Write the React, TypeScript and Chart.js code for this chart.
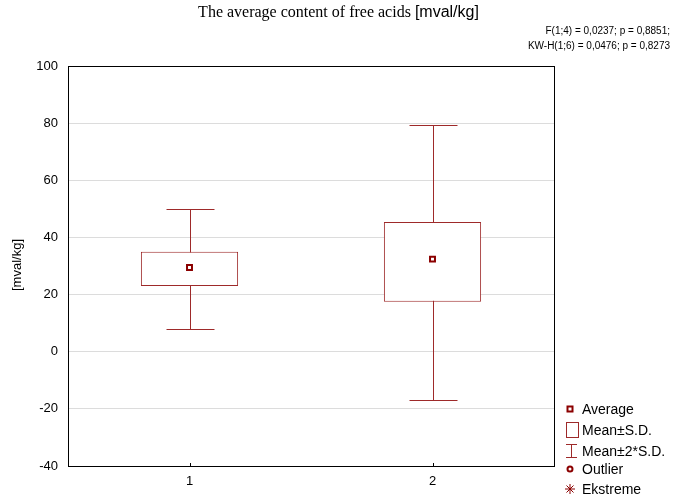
import React, { useEffect, useRef } from "react";
import { Chart, registerables } from "chart.js";

Chart.register(...registerables);

const categories = ["1", "2"];
const means = [29.5, 32.4];
const sdLow = [23, 17.5];
const sdHigh = [35, 45.4];
const whiskerLow = [8, -16.8];
const whiskerHigh = [50, 79.4];
const yTicks = [-40, -20, 0, 20, 40, 60, 80, 100];

const titleSerif = "The average content of free acids ";
const titleSans = "[mval/kg]";
const statLines = ["F(1;4) = 0,0237; p = 0,8851;", "KW-H(1;6) = 0,0476; p = 0,8273"];
const yTitle = "[mval/kg]";
const legendLabels = ["Average", "Mean±S.D.", "Mean±2*S.D.", "Outlier", "Ekstreme"];

const LINE = "#9e2a2a";
const MARK = "#8b0000";
const SANS = "'Liberation Sans', Arial, sans-serif";
const SERIF = "'Liberation Serif', 'Times New Roman', serif";

const extras = {
  id: "extras",
  beforeDatasetsDraw(chart: any) {
    const { ctx } = chart;
    const x = chart.scales.x;
    const y = chart.scales.y;
    ctx.save();
    ctx.strokeStyle = LINE;
    ctx.lineWidth = 1;
    categories.forEach((_, i) => {
      const px = Math.round(x.getPixelForValue(i)) + 0.5;
      const yl = Math.round(y.getPixelForValue(whiskerLow[i])) + 0.5;
      const yh = Math.round(y.getPixelForValue(whiskerHigh[i])) + 0.5;
      ctx.beginPath();
      ctx.moveTo(px, yl);
      ctx.lineTo(px, yh);
      ctx.moveTo(px - 24, yl);
      ctx.lineTo(px + 24, yl);
      ctx.moveTo(px - 24, yh);
      ctx.lineTo(px + 24, yh);
      ctx.stroke();
    });
    ctx.restore();
  },
  afterDraw(chart: any) {
    const { ctx, chartArea: a } = chart;
    const x = chart.scales.x;
    ctx.save();
    // frame
    ctx.strokeStyle = "#000";
    ctx.lineWidth = 1;
    ctx.strokeRect(Math.round(a.left) + 0.5, Math.round(a.top) + 0.5, Math.round(a.right - a.left), Math.round(a.bottom - a.top));
    // x ticks inside
    ctx.beginPath();
    categories.forEach((_, i) => {
      const px = Math.round(x.getPixelForValue(i)) + 0.5;
      ctx.moveTo(px, a.bottom - 3);
      ctx.lineTo(px, a.bottom);
    });
    ctx.stroke();
    // title
    ctx.fillStyle = "#000";
    ctx.textBaseline = "middle";
    ctx.textAlign = "left";
    ctx.font = "16px " + SERIF;
    const w1 = ctx.measureText(titleSerif).width;
    ctx.font = "16px " + SANS;
    const w2 = ctx.measureText(titleSans).width;
    const start = 338.5 - (w1 + w2) / 2;
    ctx.font = "16px " + SERIF;
    ctx.fillText(titleSerif, start, 13);
    ctx.font = "16px " + SANS;
    ctx.fillText(titleSans, start + w1, 13);
    // stats
    ctx.font = "10px " + SANS;
    ctx.textAlign = "right";
    ctx.fillText(statLines[0], 670, 31);
    ctx.fillText(statLines[1], 670, 46);
    // y title
    ctx.font = "13px " + SANS;
    ctx.textAlign = "center";
    ctx.save();
    ctx.translate(17, 265);
    ctx.rotate(-Math.PI / 2);
    ctx.fillText(yTitle, 0, 0);
    ctx.restore();
    // legend
    const lx = 570;
    const tx = 582;
    const ys = [409, 430, 451, 469, 489];
    ctx.textAlign = "left";
    ctx.font = "14px " + SANS;
    legendLabels.forEach((l, i) => {
      ctx.fillStyle = "#000";
      ctx.fillText(l, tx, ys[i] + 1);
    });
    ctx.strokeStyle = MARK;
    ctx.lineWidth = 2;
    ctx.strokeRect(lx - 2.5, ys[0] - 2.5, 5, 5);
    ctx.lineWidth = 1;
    ctx.strokeStyle = LINE;
    ctx.strokeRect(566.5, 422.5, 12, 15);
    ctx.beginPath();
    ctx.moveTo(571.5, 444);
    ctx.lineTo(571.5, 458);
    ctx.moveTo(566, 444.5);
    ctx.lineTo(577, 444.5);
    ctx.moveTo(566, 457.5);
    ctx.lineTo(577, 457.5);
    ctx.stroke();
    ctx.strokeStyle = MARK;
    ctx.lineWidth = 2;
    ctx.beginPath();
    ctx.arc(570, ys[3], 2.5, 0, Math.PI * 2);
    ctx.stroke();
    ctx.lineWidth = 1;
    ctx.beginPath();
    const cy = ys[4];
    ctx.moveTo(565, cy);
    ctx.lineTo(575, cy);
    ctx.moveTo(570, cy - 5);
    ctx.lineTo(570, cy + 5);
    ctx.moveTo(566.5, cy - 3.5);
    ctx.lineTo(573.5, cy + 3.5);
    ctx.moveTo(573.5, cy - 3.5);
    ctx.lineTo(566.5, cy + 3.5);
    ctx.stroke();
    ctx.restore();
  },
};

export default function App() {
  const ref = useRef<HTMLCanvasElement>(null);
  useEffect(() => {
    document.body.style.margin = "0";
    const chart = new Chart(ref.current!, {
      type: "bar",
      data: {
        labels: categories,
        datasets: [
          {
            type: "line",
            data: means,
            showLine: false,
            pointStyle: "rect",
            pointRadius: 3.5,
            pointBorderWidth: 2,
            pointBorderColor: MARK,
            pointBackgroundColor: "#fff",
            order: 0,
          } as any,
          {
            type: "bar",
            data: categories.map((_, i) => [sdLow[i], sdHigh[i]]),
            backgroundColor: "#fff",
            borderColor: LINE,
            borderWidth: 1,
            borderSkipped: false,
            categoryPercentage: 0.8,
            barPercentage: 0.5,
            order: 1,
          } as any,
        ],
      },
      options: {
        animation: false,
        responsive: false,
        devicePixelRatio: 1,
        layout: { padding: { top: 66, right: 120, left: 0, bottom: 0 } },
        plugins: { legend: { display: false }, tooltip: { enabled: false }, title: { display: false } },
        scales: {
          x: {
            offset: true,
            afterFit(s: any) {
              s.height = 30;
            },
            grid: { display: false },
            border: { display: false },
            ticks: { color: "#000", font: { family: SANS, size: 13 }, padding: 0 },
          },
          y: {
            min: -40,
            max: 100,
            afterFit(s: any) {
              s.width = 68;
            },
            afterBuildTicks(s: any) {
              s.ticks = yTicks.map((v) => ({ value: v }));
            },
            grid: { color: "#dcdcdc", tickLength: 0 },
            border: { display: false },
            ticks: { color: "#000", font: { family: SANS, size: 13 }, padding: 10 },
          },
        },
      },
      plugins: [extras],
    });
    return () => chart.destroy();
  }, []);
  return (
    <div style={{ position: "absolute", left: 0, top: 0, width: 674, height: 496 }}>
      <canvas ref={ref} width={674} height={496} style={{ width: 674, height: 496 }} />
    </div>
  );
}
